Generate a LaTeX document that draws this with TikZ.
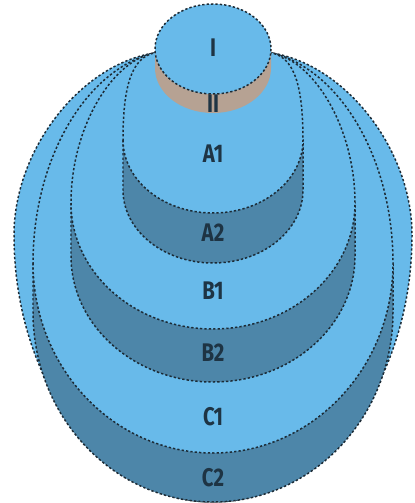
\documentclass[tikz,border=0pt]{standalone}
\usepackage{fontspec}
\usepackage{tikz}
\usetikzlibrary{positioning}
\newfontfamily\lvlfont[FakeStretch=0.8]{Fira Sans}
\definecolor{lvlface}{HTML}{68BAEA}
\definecolor{lvlside}{HTML}{4D86A9}
\definecolor{lvlbase}{HTML}{B6A293}
\definecolor{lvlline}{HTML}{1C2B36}
\definecolor{lvltext}{HTML}{1E3444}
\tikzset{
  face/.style={fill=lvlface, draw=lvlline, line width=0.85pt, dash pattern=on 1.3pt off 1.2pt},
  side/.style={fill=lvlside, draw=lvlline, line width=0.85pt, dash pattern=on 1.3pt off 1.2pt},
  lvl/.style={font=\lvlfont\fontsize{14.5}{14.5}\selectfont\bfseries, text=lvltext, inner sep=0pt},
}
% face outline: #1 half width, #2 widest y, #3 lower radius, #4 first control y, #5/#6 second control
\newcommand{\lvlface}[6]{%
  (213-#1,#2) arc[start angle=180, end angle=0, x radius=#1, y radius=#3]
  .. controls (213+#1,#4) and (426-#5,#6) .. (272,53) -- (154,53)
  .. controls (#5,#6) and (213-#1,#4) .. cycle}
% side band below a face: #1 half width, #2 widest y, #3 lower radius, #4 height
\newcommand{\lvlside}[4]{%
  (213-#1,#2) -- (213-#1,#2+#4) arc[start angle=180, end angle=0, x radius=#1, y radius=#3]
  -- (213+#1,#2) -- cycle}

\begin{document}
\begin{tikzpicture}[x=0.02cm, y=-0.02cm]
  \useasboundingbox (0,0) rectangle (415,503);
  % outer shell
  \path[face] \lvlface{199}{235}{267}{150}{80}{65};
  % C
  \path[side] \lvlside{180}{263}{190}{49};
  \path[face] \lvlface{180}{263}{190}{160}{85}{70};
  % B
  \path[side] \lvlside{142}{203}{126}{53};
  \path[face] \lvlface{142}{203}{126}{130}{110}{62};
  % A
  \path[side] \lvlside{90}{140}{73}{50};
  \path[face] \lvlface{90}{140}{73}{85}{132}{58};
  % I / II
  \path[fill=lvlbase] (155,49) -- (155,68) arc[start angle=180, end angle=0, x radius=58, y radius=45] -- (271,49) -- cycle;
  \path[face] (213,49) ellipse[x radius=58, y radius=45];

  \node[lvl] (l1) at (213,48) {I};
  \node[lvl] (l2) at (213,104) {II};
  \node[lvl] (a1) at (213,154) {A1};
  \node[lvl] (a2) at (213,233) {A2};
  \node[lvl] (b1) at (213,291) {B1};
  \node[lvl] (b2) at (213,353) {B2};
  \node[lvl] (c1) at (213,417) {C1};
  \node[lvl] (c2) at (213,478) {C2};
\end{tikzpicture}
\end{document}
